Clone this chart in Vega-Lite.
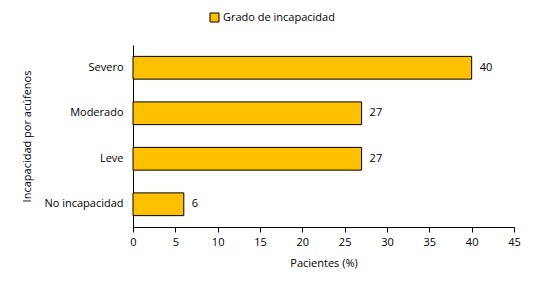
{
  "$schema": "https://vega.github.io/schema/vega-lite/v6.json",
  "autosize": {"type": "none"},
  "width": 381,
  "height": 182,
  "padding": {"left": 133, "top": 45, "right": 22, "bottom": 60},
  "background": "white",
  "config": {
    "font": "Open Sans",
    "view": {"stroke": null},
    "axis": {"labelFont": "Open Sans", "titleFont": "Open Sans", "labelFontSize": 11, "titleFontSize": 11, "labelColor": "#000", "titleColor": "#000", "titleFontWeight": "normal", "domainColor": "#000", "tickColor": "#000", "grid": false}
  },
  "data": {
    "values": [
      {"cat": "Severo", "val": 40, "serie": "Grado de incapacidad"},
      {"cat": "Moderado", "val": 27, "serie": "Grado de incapacidad"},
      {"cat": "Leve", "val": 27, "serie": "Grado de incapacidad"},
      {"cat": "No incapacidad", "val": 6, "serie": "Grado de incapacidad"}
    ]
  },
  "encoding": {
    "y": {
      "field": "cat", "type": "nominal", "sort": null,
      "scale": {"paddingInner": 0.5, "paddingOuter": 0.25},
      "axis": {"title": "Incapacidad por acúfenos", "ticks": false, "labelPadding": 10, "titleX": -106, "titleY": 91, "titleAngle": -90, "titleAlign": "center", "titleBaseline": "middle"}
    },
    "x": {
      "field": "val", "type": "quantitative",
      "scale": {"domain": [0, 45], "nice": false},
      "axis": {"title": "Pacientes (%)", "values": [0,5,10,15,20,25,30,35,40,45], "tickSize": 5, "labelPadding": 4, "titlePadding": 10, "labelFlush": false}
    }
  },
  "layer": [
    {
      "mark": {"type": "bar", "stroke": "#000", "strokeWidth": 1},
      "encoding": {
        "color": {
          "field": "serie", "type": "nominal",
          "scale": {"range": ["#FFC000"]},
          "legend": {"orient": "none", "legendX": 76, "legendY": -33, "title": null, "symbolType": "square", "symbolSize": 81, "symbolStrokeColor": "#000", "symbolStrokeWidth": 1, "labelFont": "Open Sans", "labelFontSize": 11, "labelColor": "#000", "padding": 0, "labelOffset": 3}
        }
      }
    },
    {
      "mark": {"type": "text", "align": "left", "baseline": "middle", "dx": 8, "fontSize": 11, "font": "Open Sans", "color": "#000"},
      "encoding": {"text": {"field": "val", "type": "quantitative"}}
    }
  ]
}
